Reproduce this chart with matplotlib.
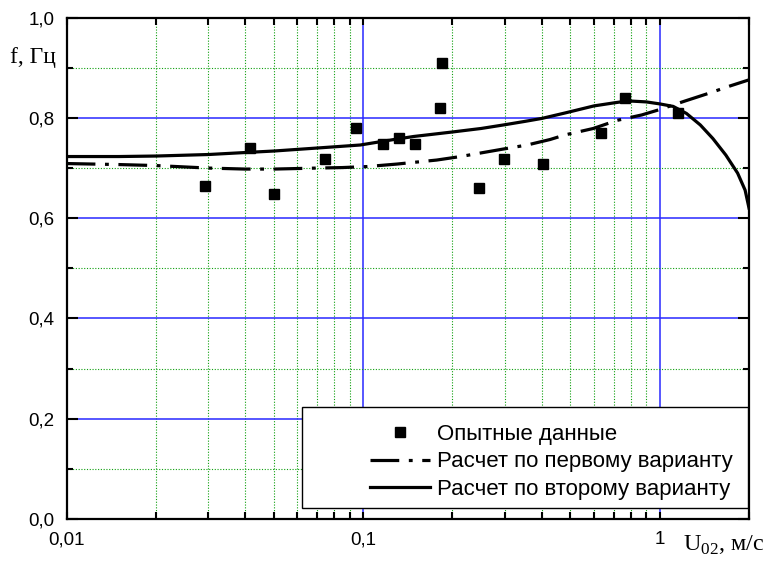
import numpy as np
import matplotlib
matplotlib.use("Agg")
import matplotlib.pyplot as plt
from matplotlib.ticker import LogLocator, FixedLocator, FuncFormatter
from matplotlib.patches import Rectangle

# Опытные данные
u_exp = [0.0293, 0.0416, 0.0501, 0.0744, 0.0947, 0.117, 0.1316, 0.1498,
         0.181, 0.1843, 0.245, 0.2976, 0.405, 0.634, 0.766, 1.153]
f_exp = [0.664, 0.740, 0.649, 0.719, 0.779, 0.749, 0.759, 0.748,
         0.819, 0.909, 0.660, 0.719, 0.709, 0.769, 0.839, 0.809]

# Расчет по первому варианту
u_v1 = [0.01, 0.015, 0.02, 0.03, 0.04, 0.05, 0.07, 0.085, 0.103, 0.13, 0.177,
        0.213, 0.254, 0.297, 0.357, 0.427, 0.478, 0.597, 0.716, 0.87, 0.99,
        1.22, 1.46, 1.73, 2.0]
f_v1 = [0.709, 0.707, 0.705, 0.700, 0.698, 0.698, 0.700, 0.701, 0.703, 0.708,
        0.716, 0.723, 0.731, 0.738, 0.746, 0.757, 0.766, 0.779, 0.795, 0.806,
        0.816, 0.834, 0.849, 0.864, 0.876]

# Расчет по второму варианту
u_v2 = [0.01, 0.015, 0.02, 0.03, 0.04, 0.05, 0.07, 0.0977, 0.127, 0.148, 0.2,
        0.25, 0.297, 0.35, 0.40, 0.48, 0.6, 0.7, 0.78, 0.9, 1.0, 1.11, 1.23,
        1.37, 1.51, 1.67, 1.83, 1.94, 2.0]
f_v2 = [0.723, 0.723, 0.724, 0.727, 0.731, 0.734, 0.740, 0.746, 0.757, 0.763,
        0.772, 0.779, 0.786, 0.793, 0.799, 0.810, 0.824, 0.830, 0.834, 0.832,
        0.828, 0.823, 0.809, 0.786, 0.759, 0.726, 0.690, 0.656, 0.620]

y_ticks = [0.0, 0.2, 0.4, 0.6, 0.8, 1.0]
x_ticks = [0.01, 0.1, 1]

plt.rcParams['font.family'] = ['Liberation Sans', 'DejaVu Sans']

fig = plt.figure(figsize=(7.68, 5.63), dpi=100)
ax = fig.add_axes([0.0868, 0.0782, 0.8885, 0.8904])

ax.set_xscale('log')
ax.set_xlim(0.01, 2.0)
ax.set_ylim(0.0, 1.0)

# сетка
ax.xaxis.set_major_locator(FixedLocator(x_ticks))
ax.xaxis.set_minor_locator(LogLocator(base=10, subs=np.arange(2, 10)))
ax.yaxis.set_major_locator(FixedLocator(y_ticks))
ax.yaxis.set_minor_locator(FixedLocator([0.1, 0.3, 0.5, 0.7, 0.9]))
ax.grid(which='major', color='#2828ff', lw=1.1, ls='-', zorder=0)
ax.grid(which='minor', color='#10a010', lw=0.8, ls=(0, (1, 1.5)), zorder=0)
ax.set_axisbelow(True)

fmt = FuncFormatter(lambda v, p: ('%g' % v).replace('.', ','))
ax.xaxis.set_major_formatter(fmt)
ax.xaxis.set_minor_formatter(FuncFormatter(lambda v, p: ''))
ax.yaxis.set_major_formatter(FuncFormatter(lambda v, p: ('%.1f' % v).replace('.', ',')))

ax.tick_params(which='both', direction='in', top=True, right=True,
               labelsize=13.5, color='black', width=1.5)
ax.tick_params(axis='y', which='major', length=8, pad=9)
ax.tick_params(axis='y', which='minor', length=4)
ax.tick_params(axis='x', which='both', length=5, pad=9)
for s in ax.spines.values():
    s.set_linewidth(1.6)

l_exp, = ax.plot(u_exp, f_exp, ls='none', marker='s', ms=7.5, color='black',
                 label='Опытные данные', zorder=4)
l_v1, = ax.plot(u_v1, f_v1, color='black', lw=2.3, ls=(0, (9, 3, 1.2, 3)),
                label='Расчет по первому варианту', zorder=3)
l_v2, = ax.plot(u_v2, f_v2, color='black', lw=2.3, ls='-',
                label='Расчет по второму варианту', zorder=3)

# рамка легенды
ax.add_patch(Rectangle((0.345, 0.022), 0.6535, 0.201, transform=ax.transAxes,
                       facecolor='white', edgecolor='black', lw=1.0, zorder=5))
leg = ax.legend(handles=[l_exp, l_v1, l_v2], loc='upper left',
                bbox_to_anchor=(0.4445, 0.19), frameon=False, fontsize=16,
                handlelength=2.7, handletextpad=0.3, labelspacing=0.3,
                borderpad=0, borderaxespad=0)
leg.set_zorder(6)

fig.text(10 / 768, 1 - 63 / 563, 'f, Гц', fontfamily='Liberation Serif',
         fontsize=17, ha='left', va='baseline')
fig.text(683 / 768, 1 - 551 / 563, r'U$_\mathregular{02}$, м/с',
         fontfamily='Liberation Serif', fontsize=17.5, ha='left', va='baseline')

fig.savefig('out.png', dpi=100)
